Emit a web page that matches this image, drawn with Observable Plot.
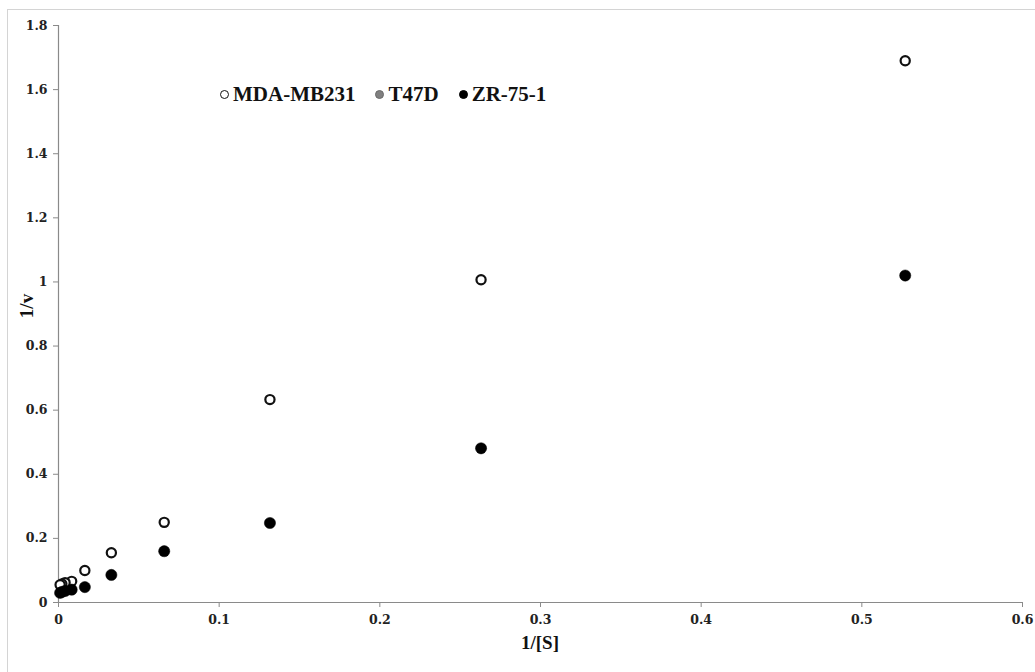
<!DOCTYPE html>
<html>
<head>
<meta charset="utf-8">
<script src="https://cdn.jsdelivr.net/npm/d3@7"></script>
<script src="https://cdn.jsdelivr.net/npm/@observablehq/plot@0.6"></script>
<style>
  html, body { margin: 0; padding: 0; background: #fff; }
  #wrap { position: relative; width: 1035px; height: 672px; overflow: hidden; font-family: "Liberation Serif", "Times New Roman", serif; font-weight: bold; }
  #border { position: absolute; left: 7px; top: 9px; width: 1040px; height: 680px; border: 1px solid #d4d4d4; box-sizing: border-box; }
  #chart { position: absolute; left: 0; top: 0; }
  #chart svg text { font-size: 12.5px !important; font-weight: bold !important; font-family: "DejaVu Serif", serif !important; }
  .legend { position: absolute; top: 82px; left: 220px; display: flex; align-items: center; font-size: 21px; color: #111; white-space: nowrap; }
  .legend .item { display: flex; align-items: center; margin-right: 20px; }
  .legend .sw { display: inline-block; width: 9px; height: 9px; border-radius: 50%; margin-right: 4px; box-sizing: border-box; }
  .ytitle { position: absolute; left: 27px; top: 306px; transform: translate(-50%, -50%) rotate(-90deg); font-size: 19px; color: #111; }
  .xtitle { position: absolute; left: 540px; top: 643px; transform: translate(-50%, -50%); font-size: 19px; color: #111; }
</style>
</head>
<body>
<div id="wrap">
  <div id="border"></div>
  <div id="chart"></div>
  <div class="ytitle">1/v</div>
  <div class="xtitle">1/[S]</div>
  <div class="legend" id="legend"></div>
</div>
<script>
// 1/[S] values
const invS = [0.527, 0.263, 0.1316, 0.0658, 0.0329, 0.0164, 0.0082, 0.0041, 0.0021, 0.001];
// 1/v values per cell line
const mdaMB231 = [1.69, 1.007, 0.633, 0.25, 0.155, 0.10, 0.066, 0.062, 0.058, 0.055];
const t47d = []; // no visible points in the reference
const zr751 = [1.02, 0.481, 0.248, 0.16, 0.086, 0.048, 0.040, 0.036, 0.033, 0.030];

const seriesNames = ["MDA-MB231", "T47D", "ZR-75-1"];
const seriesFill = ["#ffffff", "#808080", "#000000"];
const seriesStroke = ["#111111", "#6a6a6a", "#000000"];

const xTicks = [0, 0.1, 0.2, 0.3, 0.4, 0.5, 0.6];
const yTicks = [0, 0.2, 0.4, 0.6, 0.8, 1, 1.2, 1.4, 1.6, 1.8];

const toRows = (ys, name) => ys.map((v, i) => ({x: invS[i], y: v, series: name}));
const mdaRows = toRows(mdaMB231, "MDA-MB231");
const t47Rows = toRows(t47d, "T47D");
const zrRows = toRows(zr751, "ZR-75-1");

const fmt = d => String(+d.toFixed(1));
const axisColor = "#8a8a8a";

const chart = Plot.plot({
  width: 1035,
  height: 672,
  marginLeft: 58,
  marginRight: 13,
  marginTop: 25,
  marginBottom: 70,
  style: {fontFamily: "'DejaVu Serif', serif", fontSize: "12.5px", fontWeight: "bold", background: "transparent", color: "#222"},
  x: {domain: [0, 0.6]},
  y: {domain: [0, 1.8]},
  marks: [
    Plot.ruleX([0], {stroke: axisColor, strokeWidth: 1.2}),
    Plot.ruleY([0], {stroke: axisColor, strokeWidth: 1.2}),
    Plot.axisX({ticks: xTicks, tickFormat: fmt, tickSize: 5, tickPadding: 8, stroke: axisColor, label: null, fill: "#222"}),
    Plot.axisY({ticks: yTicks, tickFormat: fmt, tickSize: 5, tickPadding: 6, stroke: axisColor, label: null, fill: "#222"}),
    Plot.dot(mdaRows, {x: "x", y: "y", r: 4.6, fill: "#ffffff", stroke: "#111", strokeWidth: 2.2}),
    Plot.dot(t47Rows, {x: "x", y: "y", r: 5.4, fill: "#808080", stroke: "#808080"}),
    Plot.dot(zrRows, {x: "x", y: "y", r: 5.6, fill: "#000", stroke: "#000", strokeWidth: 0.5})
  ]
});
document.getElementById("chart").appendChild(chart);

const legend = document.getElementById("legend");
seriesNames.forEach((name, i) => {
  const item = document.createElement("div");
  item.className = "item";
  const sw = document.createElement("span");
  sw.className = "sw";
  sw.style.background = seriesFill[i];
  sw.style.border = `1.8px solid ${seriesStroke[i]}`;
  const label = document.createElement("span");
  label.textContent = name;
  item.appendChild(sw);
  item.appendChild(label);
  legend.appendChild(item);
});
</script>
</body>
</html>
